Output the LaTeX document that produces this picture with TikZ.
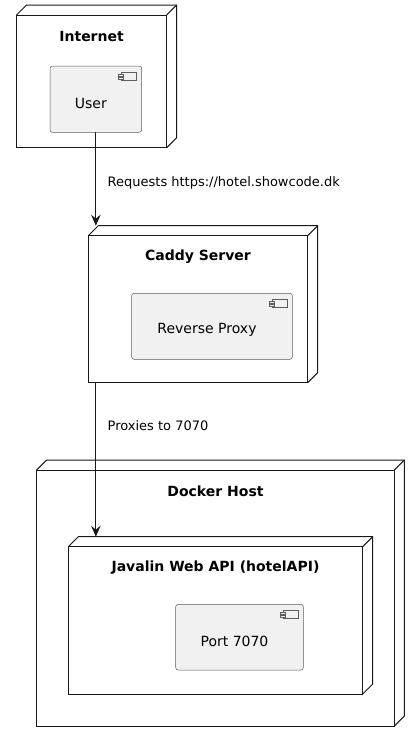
\documentclass[tikz,border=0pt]{standalone}
\usepackage{fontspec}
\setmainfont{DejaVu Sans}
\usetikzlibrary{arrows.meta}
\definecolor{umlline}{HTML}{181818}
\definecolor{umlfill}{HTML}{F1F1F1}
\begin{document}
\begin{tikzpicture}[
  x=1pt,y=-1pt,
  box/.style={draw=umlline,line width=1pt,fill=white,inner sep=0pt,outer sep=0pt},
  side/.style={draw=umlline,line width=1pt},
  title/.style={font=\bfseries\fontsize{14}{16}\selectfont,text=black},
  comp/.style={draw=umlline!70,line width=0.5pt,fill=umlfill,rounded corners=2.5pt,inner sep=0pt,outer sep=0pt},
  comptext/.style={xshift=-5pt,yshift=-4pt,font=\fontsize{14}{16}\selectfont,text=black},
  icon/.style={draw=umlline!70,line width=0.5pt,fill=umlfill},
  flow/.style={draw=umlline,line width=1pt,-{Stealth[length=11pt,width=9.5pt,inset=4pt]}},
  flowtext/.style={right,xshift=8pt,font=\fontsize{13}{15}\selectfont,text=black}
]
  \useasboundingbox
    (0,0)
    rectangle
    (420,742);
  \node[box,minimum width=150.2pt,minimum height=132.7pt]
    (internet) at (91.6,81.35) {};
  \node[box,minimum width=219.4pt,minimum height=147pt]
    (caddy) at (198,309.2) {};
  \node[box,minimum width=357.6pt,minimum height=256pt]
    (docker) at (215.5,598) {};
  \draw[side]
    (internet.north west)
    --
    ++(10,-10)
    -|
    ([shift={(10,-10)}]internet.south east)
    --
    (internet.south east);
  \draw[side]
    (internet.north east)
    --
    ++(10,-10);
  \draw[side]
    (caddy.north west)
    --
    ++(10,-10)
    -|
    ([shift={(10,-10)}]caddy.south east)
    --
    (caddy.south east);
  \draw[side]
    (caddy.north east)
    --
    ++(10,-10);
  \draw[side]
    (docker.north west)
    --
    ++(10,-10)
    -|
    ([shift={(10,-10)}]docker.south east)
    --
    (docker.south east);
  \draw[side]
    (docker.north east)
    --
    ++(10,-10);
  \node[box,minimum width=294.4pt,minimum height=147.3pt]
    (javalin) at (215.5,620.35) {};
  \draw[side]
    (javalin.north west)
    --
    ++(10,-10)
    -|
    ([shift={(10,-10)}]javalin.south east)
    --
    (javalin.south east);
  \draw[side]
    (javalin.north east)
    --
    ++(10,-10);
  \node[title]
    (internettitle) at ([yshift=-21pt]internet.north) {Internet};
  \node[title]
    (caddytitle) at ([yshift=-21pt]caddy.north) {Caddy Server};
  \node[title]
    (dockertitle) at ([yshift=-21pt]docker.north) {Docker Host};
  \node[title]
    (javalintitle) at ([yshift=-21pt]javalin.north) {Javalin Web API (hotelAPI)};
  \node[comp,minimum width=91.7pt,minimum height=66.3pt,
    label={[comptext]center:User}]
    (user) at (95.85,99.15) {};
  \node[comp,minimum width=160.6pt,minimum height=66pt,
    label={[comptext]center:Reverse Proxy}]
    (proxy) at (212,326.3) {};
  \node[comp,minimum width=127.6pt,minimum height=65.7pt,
    label={[comptext]center:Port 7070}]
    (port) at (239.5,637.2) {};
  \foreach \c in {user,proxy,port}
  {
    \draw[icon]
      ([shift={(-20,6)}]\c.north east)
      rectangle
      ([shift={(-5,14)}]\c.north east);
    \draw[icon]
      ([shift={(-23,8)}]\c.north east)
      rectangle
      ([shift={(-18,10)}]\c.north east);
    \draw[icon]
      ([shift={(-23,11)}]\c.north east)
      rectangle
      ([shift={(-18,13)}]\c.north east);
  }
  \coordinate
    (caddyback) at ([yshift=10pt]caddy.north);
  \coordinate
    (javalinback) at ([yshift=10pt]javalin.north);
  \draw[flow]
    (user.south)
    --
    (user.south |- caddyback)
    node[flowtext,pos=0.54] {Requests https://hotel.showcode.dk};
  \draw[flow]
    (user.south |- caddy.south)
    --
    (user.south |- javalinback)
    node[flowtext,pos=0.28] {Proxies to 7070};
\end{tikzpicture}
\end{document}
